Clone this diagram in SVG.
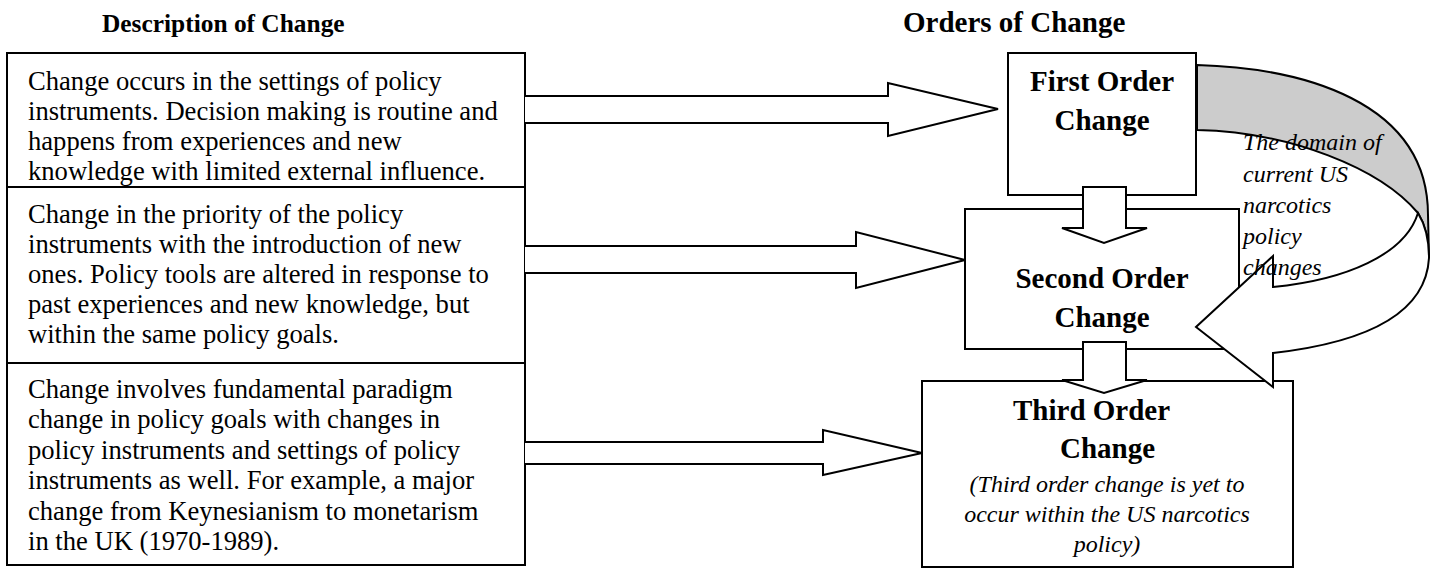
<svg xmlns="http://www.w3.org/2000/svg" width="1436" height="571" viewBox="0 0 1436 571">
<style>
.box{fill:#fff;stroke:#000;stroke-width:2}
.arr{fill:#fff;stroke:#000;stroke-width:2;stroke-linejoin:miter}
.body{font-family:"Liberation Serif","Times New Roman",serif;font-size:26.6px;fill:#000}
.hd{font-family:"Liberation Serif","Times New Roman",serif;font-weight:bold;fill:#000}
.bt{font-family:"Liberation Serif","Times New Roman",serif;font-weight:bold;font-size:29px;fill:#000}
.it{font-family:"Liberation Serif","Times New Roman",serif;font-style:italic;font-size:24px;fill:#000}
</style>
<g id="headings">
<text class="hd" x="102" y="32" font-size="25.4">Description of Change</text>
<text class="hd" x="903" y="32" font-size="29">Orders of Change</text>
</g>
<g id="desc1">
<rect class="box" x="7" y="53" width="518" height="134"/>
<text class="body" x="28" y="90">Change occurs in the settings of policy</text>
<text class="body" x="28" y="120">instruments. Decision making is routine and</text>
<text class="body" x="28" y="150">happens from experiences and new</text>
<text class="body" x="28" y="180">knowledge with limited external influence.</text>
</g>
<g id="desc2">
<rect class="box" x="7" y="187" width="518" height="176"/>
<text class="body" x="28" y="223">Change in the priority of the policy</text>
<text class="body" x="28" y="253">instruments with the introduction of new</text>
<text class="body" x="28" y="283">ones. Policy tools are altered in response to</text>
<text class="body" x="28" y="313">past experiences and new knowledge, but</text>
<text class="body" x="28" y="343">within the same policy goals.</text>
</g>
<g id="desc3">
<rect class="box" x="7" y="363" width="518" height="202"/>
<text class="body" x="28" y="398">Change involves fundamental paradigm</text>
<text class="body" x="28" y="428">change in policy goals with changes in</text>
<text class="body" x="28" y="459">policy instruments and settings of policy</text>
<text class="body" x="28" y="489">instruments as well. For example, a major</text>
<text class="body" x="28" y="520">change from Keynesianism to monetarism</text>
<text class="body" x="28" y="550">in the UK (1970-1989).</text>
</g>
<g id="first">
<rect class="box" x="1008" y="53" width="188" height="142"/>
<text class="bt" x="1102" y="91" text-anchor="middle">First Order</text>
<text class="bt" x="1102" y="130" text-anchor="middle">Change</text>
</g>
<g id="second">
<rect class="box" x="965" y="209" width="274" height="140"/>
<text class="bt" x="1102" y="288" text-anchor="middle">Second Order</text>
<text class="bt" x="1102" y="327" text-anchor="middle">Change</text>
</g>
<g id="third">
<rect class="box" x="922" y="381" width="371" height="186"/>
<text class="bt" x="1013" y="420">Third Order</text>
<text class="bt" x="1060" y="458">Change</text>
<text class="it" x="1107" y="492" text-anchor="middle">(Third order change is yet to</text>
<text class="it" x="1107" y="522" text-anchor="middle">occur within the US narcotics</text>
<text class="it" x="1107" y="552" text-anchor="middle">policy)</text>
</g>
<g id="connectors">
<path class="arr" d="M525,96 L888,96 L888,83 L998,109 L888,136 L888,123 L525,123"/>
<path class="arr" d="M525,246 L856,246 L856,232 L965,260 L856,288 L856,273 L525,273"/>
<path class="arr" d="M525,442 L823,442 L823,430 L922,453 L823,475 L823,464 L525,464"/>
<path class="arr" d="M1083,187 L1126,187 L1126,228 L1147,228 L1104,243 L1062,228 L1083,228 Z"/>
<path class="arr" d="M1083,342 L1126,342 L1126,380 L1147,380 L1104,393 L1062,380 L1083,380 Z"/>
<path d="M1197,65 C1300,68 1428,100 1428,215 L1429,258 C1429,240 1426,226 1418,213 C1380,168 1290,132 1197,130 Z" fill="#cccccc" stroke="#000" stroke-width="2"/>
<path class="arr" d="M1418,213 C1426,226 1429,240 1429,258 C1426,312 1370,342 1273,353 L1273,387 L1196,327 L1273,256 L1273,287 C1345,280 1405,255 1418,213 Z"/>
</g>
<g id="curve-label">
<text class="it" x="1243" y="150">The domain of</text>
<text class="it" x="1243" y="182">current US</text>
<text class="it" x="1243" y="213">narcotics</text>
<text class="it" x="1243" y="244">policy</text>
<text class="it" x="1243" y="275">changes</text>
</g>
</svg>
